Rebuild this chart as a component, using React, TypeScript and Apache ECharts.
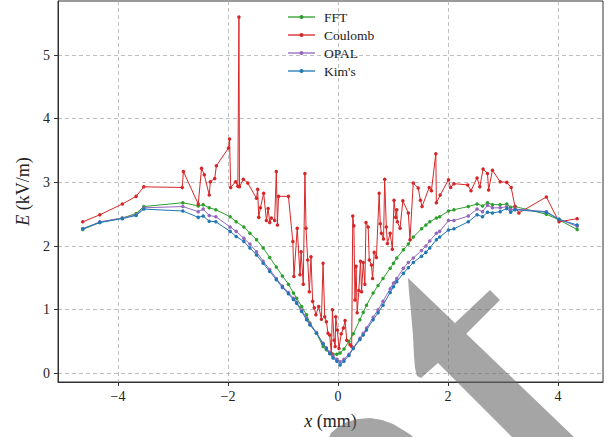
import React, { useEffect, useRef } from "react";
import * as echarts from "echarts";

// shared particle positions (mm) for the smooth solvers
const xs = [
  -4.64, -4.33, -3.92, -3.67, -3.53, -2.82, -2.54, -2.45, -2.34, -2.22,
  -1.96, -1.85, -1.71, -1.6, -1.48, -1.36, -1.24, -1.12, -1.01, -0.9,
  -0.81, -0.75, -0.66, -0.57, -0.51, -0.39, -0.27, -0.21, -0.15, -0.09,
  -0.02, 0.04, 0.11, 0.2, 0.28, 0.4, 0.46, 0.52, 0.64, 0.73,
  0.82, 0.95, 1.01, 1.07, 1.19, 1.28, 1.37, 1.52, 1.6, 1.67,
  1.79, 1.85, 2.01, 2.11, 2.37, 2.53, 2.63, 2.72, 2.81, 2.95,
  3.07, 3.14, 3.22, 3.79, 4.02, 4.35,
];
const fftE = [
  2.26, 2.37, 2.44, 2.51, 2.62, 2.68, 2.63, 2.65, 2.6, 2.57,
  2.46, 2.38, 2.3, 2.2, 2.1, 1.97, 1.82, 1.67, 1.53, 1.4,
  1.26, 1.18, 1.05, 0.92, 0.79, 0.63, 0.42, 0.37, 0.31, 0.3,
  0.3, 0.32, 0.38, 0.5, 0.62, 0.84, 0.96, 1.07, 1.26, 1.38,
  1.49, 1.65, 1.73, 1.81, 1.94, 2.03, 2.14, 2.27, 2.33, 2.38,
  2.44, 2.46, 2.55, 2.57, 2.62, 2.66, 2.63, 2.68, 2.65, 2.65,
  2.66, 2.61, 2.62, 2.5, 2.41, 2.26,
];
const opalE = [
  2.27, 2.38, 2.44, 2.49, 2.6, 2.62, 2.54, 2.58, 2.48, 2.46,
  2.3, 2.23, 2.12, 2.03, 1.91, 1.76, 1.63, 1.49, 1.37, 1.27,
  1.18, 1.12, 0.99, 0.87, 0.78, 0.64, 0.47, 0.4, 0.33, 0.27,
  0.22, 0.18, 0.22, 0.3, 0.4, 0.55, 0.63, 0.71, 0.88, 1.0,
  1.13, 1.33, 1.42, 1.49, 1.65, 1.74, 1.81, 1.93, 2.0, 2.08,
  2.2, 2.23, 2.4, 2.4, 2.47, 2.58, 2.54, 2.64, 2.6, 2.6,
  2.62, 2.57, 2.58, 2.54, 2.42, 2.31,
];
const kimE = [
  2.27, 2.37, 2.43, 2.48, 2.58, 2.55, 2.45, 2.47, 2.39, 2.38,
  2.23, 2.15, 2.07, 1.97, 1.86, 1.73, 1.6, 1.47, 1.35, 1.25,
  1.16, 1.1, 0.97, 0.84, 0.76, 0.63, 0.46, 0.39, 0.31, 0.24,
  0.19, 0.13, 0.19, 0.28, 0.39, 0.53, 0.6, 0.68, 0.84, 0.95,
  1.07, 1.27, 1.36, 1.44, 1.57, 1.66, 1.74, 1.84, 1.9, 1.97,
  2.1, 2.14, 2.25, 2.27, 2.38, 2.49, 2.46, 2.53, 2.52, 2.54,
  2.59, 2.53, 2.57, 2.53, 2.42, 2.33,
];

// Coulomb (direct sum) – noisy
const coulombX = [
  -4.64, -4.33, -3.92, -3.67, -3.53, -2.83, -2.81, -2.54, -2.48, -2.43,
  -2.34, -2.32, -2.24, -2.21, -1.99, -1.97, -1.95, -1.86, -1.82, -1.8,
  -1.79, -1.72, -1.64, -1.48, -1.46, -1.44, -1.41, -1.35, -1.3, -1.27,
  -1.24, -1.21, -1.15, -1.12, -1.1, -1.08, -0.9, -0.82, -0.8, -0.74,
  -0.69, -0.67, -0.63, -0.6, -0.58, -0.55, -0.52, -0.49, -0.46, -0.43,
  -0.4, -0.35, -0.3, -0.27, -0.24, -0.21, -0.18, -0.15, -0.12, -0.1,
  -0.07, -0.05, -0.04, -0.01, 0.02, 0.06, 0.1, 0.13, 0.16, 0.22,
  0.25, 0.27, 0.29, 0.31, 0.33, 0.35, 0.38, 0.41, 0.43, 0.46,
  0.49, 0.51, 0.55, 0.57, 0.61, 0.63, 0.66, 0.7, 0.75, 0.77,
  0.79, 0.83, 0.85, 0.88, 0.9, 0.95, 0.99, 1.02, 1.05, 1.07,
  1.08, 1.13, 1.18, 1.28, 1.31, 1.37, 1.46, 1.5, 1.53, 1.66,
  1.7, 1.78, 1.79, 1.86, 2.01, 2.05, 2.11, 2.36, 2.42, 2.53,
  2.58, 2.64, 2.72, 2.74, 2.81, 2.95, 3.07, 3.15, 3.22, 3.29,
  3.79, 4.02, 4.35,
];
const coulombE = [
  2.38, 2.49, 2.66, 2.78, 2.93, 2.92, 3.17, 2.66, 3.22, 3.12,
  2.8, 3.01, 3.06, 3.26, 3.54, 3.68, 2.92, 3.01, 2.94, 5.6,
  2.93, 3.05, 2.99, 2.75, 2.89, 2.45, 2.6, 2.83, 2.4, 2.59,
  2.37, 2.44, 2.4, 3.17, 2.33, 2.78, 2.78, 2.07, 1.52, 2.28,
  1.55, 1.91, 1.4, 3.14, 2.28, 1.78, 1.28, 1.83, 1.13, 1.03,
  0.92, 1.05, 0.85, 1.73, 0.89, 0.81, 0.63, 0.6, 0.31, 1.0,
  0.52, 0.42, 0.89, 0.68, 0.39, 0.62, 0.71, 0.83, 0.52, 0.45,
  0.42, 2.47, 2.32, 1.15, 1.68, 0.95, 1.3, 1.76, 1.28, 1.74,
  1.4, 2.37, 2.3, 1.78, 1.7, 1.49, 1.9, 1.82, 2.83, 2.35,
  2.2, 2.11, 3.05, 2.3, 2.04, 2.2, 1.95, 2.72, 2.45, 2.57,
  2.38, 2.28, 2.71, 2.52, 2.1, 2.99, 2.91, 2.72, 2.62, 2.92,
  2.87, 3.45, 2.68, 2.8, 3.04, 2.92, 2.98, 2.96, 2.87, 3.07,
  2.93, 3.21, 3.14, 2.88, 3.19, 3.01, 3.0, 2.92, 2.62, 2.52,
  2.77, 2.38, 2.43,
];

const xTicks = [-4, -2, 0, 2, 4];
const yTicks = [0, 1, 2, 3, 4, 5];

const FONT = "'Liberation Serif', 'DejaVu Serif', serif";

function pairs(x: number[], y: number[]) {
  return x.map((v, i) => [v, y[i]]);
}

function lineSeries(name: string, color: string, data: number[][]) {
  return {
    name,
    type: "line",
    data,
    symbol: "circle",
    symbolSize: 3.5,
    showSymbol: true,
    lineStyle: { width: 1, color },
    itemStyle: { color },
    emphasis: { disabled: true },
  };
}

export default function App() {
  const ref = useRef<HTMLDivElement>(null);
  useEffect(() => {
    if (!ref.current) return;
    const chart = echarts.init(ref.current, undefined, { renderer: "svg" });
    const grey = "rgba(105,105,105,0.6)";
    chart.setOption({
      animation: false,
      textStyle: { fontFamily: FONT },
      grid: {
        left: 58,
        right: 12,
        top: 1,
        bottom: 55,
        show: true,
        borderColor: "#333",
        borderWidth: 1,
        containLabel: false,
      },
      legend: {
        orient: "vertical",
        left: 287,
        top: 10,
        padding: 0,
        itemWidth: 27,
        itemHeight: 5,
        itemGap: 4,
        lineStyle: { opacity: 0.65 },
        textStyle: { fontFamily: FONT, fontSize: 13.5, color: "#222", padding: [0, 0, 0, 4] },
        data: ["FFT", "Coulomb", "OPAL", "Kim's"],
      },
      xAxis: {
        type: "value",
        min: -5.09,
        max: 4.82,
        name: "{i|x} (mm)",
        nameLocation: "middle",
        nameGap: 30,
        nameTextStyle: {
          fontFamily: FONT,
          fontSize: 18,
          color: "#222",
          rich: { i: { fontStyle: "italic", fontFamily: FONT, fontSize: 18, color: "#222" } },
        },
        axisLine: { show: true, onZero: false, lineStyle: { color: "#333", width: 1 } },
        axisTick: { show: true, length: 4, customValues: xTicks, lineStyle: { color: "#333" } },
        axisLabel: {
          customValues: xTicks,
          margin: 7,
          fontFamily: FONT,
          fontSize: 14,
          color: "#222",
          formatter: (v: number) => (v < 0 ? "\u2212" + Math.abs(v) : String(v)),
        },
        splitLine: { show: true, lineStyle: { color: "#b0b0b0", type: [4, 3], width: 0.8 } },
      },
      yAxis: {
        type: "value",
        min: -0.137,
        max: 5.85,
        name: "{i|E} (kV/m)",
        nameLocation: "middle",
        nameGap: 26,
        nameTextStyle: {
          fontFamily: FONT,
          fontSize: 18,
          color: "#222",
          rich: { i: { fontStyle: "italic", fontFamily: FONT, fontSize: 18, color: "#222" } },
        },
        axisLine: { show: true, onZero: false, lineStyle: { color: "#333", width: 1 } },
        axisTick: { show: true, length: 4, customValues: yTicks, lineStyle: { color: "#333" } },
        axisLabel: {
          customValues: yTicks,
          margin: 8,
          fontFamily: FONT,
          fontSize: 14,
          color: "#222",
        },
        splitLine: { show: true, lineStyle: { color: "#b0b0b0", type: [4, 3], width: 0.8 } },
      },
      series: [
        lineSeries("FFT", "#2ca02c", pairs(xs, fftE)),
        lineSeries("Coulomb", "#d62728", pairs(coulombX, coulombE)),
        lineSeries("OPAL", "#9467bd", pairs(xs, opalE)),
        lineSeries("Kim's", "#1f77b4", pairs(xs, kimE)),
      ],
      graphic: [
        {
          type: "polygon",
          z: 100,
          silent: true,
          shape: {
            points: [
              [408, 278], [409, 292], [411, 312], [413, 336], [414, 356],
              [415, 368], [417, 376], [421, 378], [438, 363], [560, 485],
              [624, 485],
            ],
          },
          style: { fill: grey },
        },
        {
          type: "polygon",
          z: 100,
          silent: true,
          shape: { points: [[455, 323], [490, 290], [500, 300], [466, 334]] },
          style: { fill: grey },
        },
        {
          type: "polygon",
          z: 100,
          silent: true,
          shape: {
            points: [
              [328, 440], [331, 433], [338, 427], [347, 422], [358, 419],
              [370, 418], [382, 420], [393, 424], [403, 430], [411, 435],
              [416, 440],
            ],
          },
          style: { fill: grey },
        },
      ],
    });
    return () => chart.dispose();
  }, []);
  return (
    <div
      ref={ref}
      style={{ position: "absolute", left: 0, top: 0, width: 615, height: 437, background: "#fff" }}
    />
  );
}
